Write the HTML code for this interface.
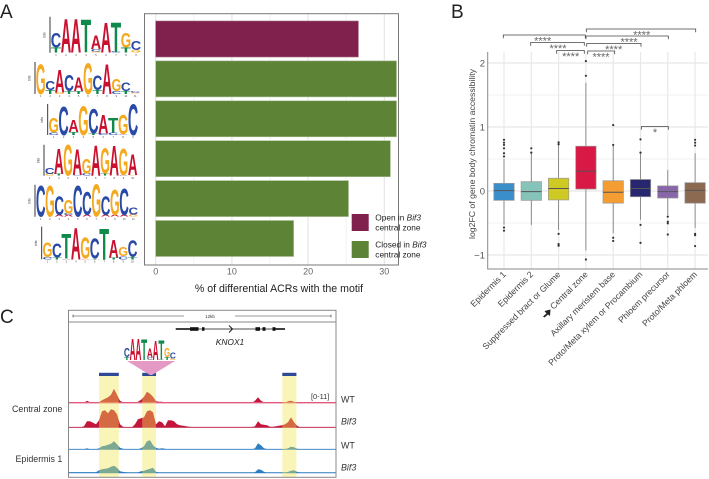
<!DOCTYPE html>
<html>
<head>
<meta charset="utf-8">
<title>ACR motif figure</title>
<style>
html,body{margin:0;padding:0;background:#fff}
svg{display:block;font-family:"Liberation Sans",sans-serif}
</style>
</head>
<body>
<svg id="fig" width="709" height="479" viewBox="0 0 709 479" xmlns="http://www.w3.org/2000/svg">
<text x="0" y="18" font-size="19" fill="#222">A</text>
<text x="451" y="18" font-size="19" fill="#222">B</text>
<text x="0" y="323" font-size="19" fill="#222">C</text>
<g id="logos"></g>
<g id="bars"></g>
<g id="boxes"></g>
<g id="browser"></g>
</svg>
<script>
/* ---------- Panel A data ---------- */
var barValues = [26.6, 31.6, 31.6, 30.8, 25.3, 18.1];
var barGroups = ['open', 'closed', 'closed', 'closed', 'closed', 'closed'];
var barTicks = [0, 10, 20, 30];
var barMinorTicks = [5, 15, 25];
var logoA = [[['T',.28],['C',.8]],[['A',1.85]],[['A',1.85]],[['T',1.8]],[['G',.06],['C',.15],['A',.75]],[['A',1.65]],[['C',.05],['T',1.65]],[['T',.28],['G',.8]],[['G',.15],['C',.5]]];
var logoB = [[['G',1.85]],[['T',.25],['C',.55]],[['G',.1],['A',1.4]],[['T',.2],['C',1]],[['T',.2],['A',.85]],[['G',1.9]],[['T',.25],['C',.9]],[['A',1.85]],[['C',.2],['G',.75]],[['T',.2],['C',.5]],[['G',.05],['A',.05],['C',.08]]];
var logoC = [[['C',.15],['G',.95]],[['C',1.8]],[['T',.2],['A',.8]],[['G',1.85]],[['T',.1],['C',1.55]],[['C',.1],['A',1.2]],[['C',.15],['T',.95]],[['C',.05],['G',1.25]],[['C',1.98]]];
var logoD = [[['G',.1],['C',.35]],[['T',.1],['A',1.6]],[['G',2]],[['C',.05],['A',1.65]],[['C',.15],['G',.95]],[['A',1.93]],[['T',.15],['G',1.6]],[['A',1.9]],[['C',.05],['G',1.7]],[['G',.05],['A',1.3]]];
var logoE = [[['C',1.92]],[['G',1.92]],[['A',.1],['C',1.15]],[['A',.1],['C',.1],['G',.85]],[['C',1.92]],[['A',.1],['C',1.45]],[['G',1.98]],[['A',.1],['C',1.15]],[['A',.1],['G',1.55]],[['A',.1],['C',1.65]],[['G',.1],['A',.05],['C',.45]]];
var logoF = [[['C',.15],['G',.9]],[['T',.1],['C',.85]],[['A',.05],['T',1.5]],[['A',1.9]],[['A',.05],['G',1.3]],[['T',.05],['C',1.2]],[['T',1.88]],[['T',.1],['A',1.05]],[['C',.2],['G',.55]],[['T',.15],['C',1]]];

/* ---------- Panel B data ---------- */
var categories = ['Epidermis 1','Epidermis 2','Suppressed bract or Glume','Central zone','Axillary meristem base','Proto/Meta xylem or Procambium','Phloem precursor','Proto/Meta phloem'];
var q1Values = [-0.146,-0.146,-0.14,0.03,-0.19,-0.09,-0.11,-0.19];
var medianValues = [0.005,-0.01,0.04,0.31,-0.02,0.04,-0.01,0.01];
var q3Values = [0.12,0.146,0.2,0.7,0.16,0.18,0.08,0.13];
var whiskerLow = [-0.53,-0.53,-0.61,-0.93,-0.66,-0.45,-0.375,-0.58];
var whiskerHigh = [0.5,0.59,0.72,1.69,0.72,0.59,0.33,0.59];
var outlierValues = [[0.8,0.755,0.72,0.667,0.59,0.54,-0.57,-0.62],[0.667,0.6],[0.76,0.73,-0.67,-0.83,-0.855],[2.03,1.8,-1.07],[1.03,0.72,-0.73,-0.78],[0.807,0.6,-0.53,-0.81],[-0.4,-0.48,-0.505,-0.68],[0.8,0.755,0.71,-0.67,-0.69,-0.86]];
var boxColors = ['#3a8fcb','#86c3b8','#cfc923','#d91945','#f39d33','#27276f','#8866a8','#8c6a52'];
var yTicks = [2,1,0,-1];
var yMinorTicks = [1.5,0.5,-0.5];

/* ---------- Panel C data (coverage per genomic bin) ---------- */
var trackCentralWT = [0,0,0,0,0,0,2,.5,0,0,.5,2.5,4,5.5,8,14,8,2,.5,0,0,0,0,1,3,6,11,9,6,1.5,1,1,0,0,0,0,0,0,0,0,0,0,0,0,0,0,0,0,0,0,0,0,0,0,0,0,0,0,0,0,0,0,2,5.5,2,.5,.5,0,0,0,0,0,0,1.5,2,1,0,0,0,0,0,0,0,0,0,0,0,0,0,0];
var trackCentralBif3 = [0,0,0,0,0,1,6,6,4.5,3,7,16,17,14,18,17,13,3,.5,0,0,0,3,8,9,10,16,17,15,3,6,5,1,7,7,6,3,2,1.5,1,.5,.3,.3,.3,.3,.3,.3,.3,.3,.3,.3,.3,.3,.3,.3,.3,.3,.3,.3,.3,.3,.3,1,6,3,2.5,2,.5,.5,1,1.5,2,3,5,10,5,1.5,0,0,0,0,0,0,0,0,0,0,0,0,0];
var trackEpidermisWT = [0,0,0,0,0,0,1,0,0,0,1,3,3.5,4.5,5.5,8,5,1.5,.5,0,0,0,0,0,1,3,8,9,4,1.5,.5,1,.5,0,0,0,0,0,0,0,0,0,0,0,0,0,0,0,0,0,0,0,0,0,0,0,0,0,0,0,0,0,1,6,4,1,.3,0,0,0,0,0,0,1,2.5,2,.5,0,0,0,0,0,0,0,0,0,0,0,0,0];
var trackEpidermisBif3 = [.5,.5,.5,.5,.5,.5,.5,.5,.5,.5,2.5,3.5,4,4.5,6,7,5,1.5,.8,.5,0,0,0,.3,1.5,2,3,4,5,1,0,0,0,0,0,0,0,0,0,0,0,0,0,0,0,0,0,0,0,0,0,0,0,0,0,0,0,0,0,0,0,0,.5,3.5,3,1,0,0,0,0,0,0,0,.8,2,2.5,1,0,0,0,0,0,0,0,0,0,0,0,0,0];
var highlightBins = [[10,16.6],[24.4,29],[71.1,75.8]];
var trackNames = ['central-zone-wt','central-zone-bif3','epidermis-wt','epidermis-bif3'];

var NS = 'http://www.w3.org/2000/svg';
function mk(parent, tag, attrs, txt) {
  var e = document.createElementNS(NS, tag);
  for (var k in attrs) e.setAttribute(k, attrs[k]);
  if (txt !== undefined) e.textContent = txt;
  parent.appendChild(e);
  return e;
}
var letterColor = {A:'#c9112f', C:'#2a4aa8', G:'#f4a91e', T:'#0f8a4c'};
var letterAdv = {A:.722, C:.722, G:.778, T:.611};

function drawLogo(parent, data, x0, x1, base, H, showAxis) {
  var colW = (x1 - x0) / data.length;
  var perBit = H / 2;
  data.forEach(function (col, i) {
    var y = base;
    col.forEach(function (cell) {
      var h = cell[1] * perBit;
      var sx = colW * 1.04 / (letterAdv[cell[0]] * 10);
      var sy = h / 6.9;
      var t = mk(parent, 'text', {
        transform: 'translate(' + (x0 + i * colW - colW * 0.02) + ',' + y + ') scale(' + sx + ',' + sy + ')',
        'font-size': 10, 'font-weight': 700, fill: letterColor[cell[0]]
      }, cell[0]);
      
      
      y -= h;
    });
    if (showAxis) {
      var n = mk(parent, 'text', {x: x0 + (i + .5) * colW, y: base + 3.2, 'font-size': 2.6, fill: '#444', 'text-anchor': 'middle'}, i + 1);
      
      
    }
  });
  if (showAxis) {
    var ax = mk(parent, 'line', {x1: x0 - 1, x2: x0 - 1, y1: base - H, y2: base, stroke: '#222', 'stroke-width': .9});
    
    
    var lb = mk(parent, 'text', {transform: 'translate(' + (x0 - 5.5) + ',' + (base - H / 2 + 3) + ') rotate(-90)', 'font-size': 3.5, fill: '#333'}, 'bits');
    
    
  }
}

/* Panel A logos */
var logoG = document.getElementById('logos');
drawLogo(logoG, logoA, 51, 141, 52.7, 36, true);
drawLogo(logoG, logoB, 36, 140, 94, 32, true);
drawLogo(logoG, logoC, 48.7, 138, 135, 31, true);
drawLogo(logoG, logoD, 45, 137.3, 175.7, 31, true);
drawLogo(logoG, logoE, 36, 138, 216.7, 32, true);
drawLogo(logoG, logoF, 42.7, 137.3, 259.3, 32.7, true);

/* Panel A bars */
var barG = document.getElementById('bars');
function bx(v) { return 155.7 + v * 7.62; }
barMinorTicks.forEach(function (t) {
  var g = mk(barG, 'line', {x1: bx(t), x2: bx(t), y1: 14, y2: 265, stroke: '#f2f2f2', 'stroke-width': 1});
  
  
});
barTicks.forEach(function (t) {
  var g = mk(barG, 'line', {x1: bx(t), x2: bx(t), y1: 14, y2: 265, stroke: '#e6e6e6', 'stroke-width': 1.2});
  
  
  var l = mk(barG, 'text', {x: bx(t), y: 274.5, 'font-size': 9, fill: '#666', 'text-anchor': 'middle'}, t);
  
  
});
barValues.forEach(function (v, i) {
  var r = mk(barG, 'rect', {x: bx(0), y: 21 + i * 39.9, width: bx(v) - bx(0), height: 36,
    fill: barGroups[i] === 'open' ? '#80204c' : '#5d8337', stroke: barGroups[i] === 'open' ? '#a36a85' : '#a9bf93', 'stroke-width': .6});
  
  
});
var fr = mk(barG, 'rect', {x: 144.5, y: 13.7, width: 254, height: 251.3, fill: 'none', stroke: '#777', 'stroke-width': 1});


var xt = mk(barG, 'text', {x: 279, y: 292, 'font-size': 10.6, fill: '#222', 'text-anchor': 'middle'}, '% of differential ACRs with the motif');



var legendEntries = [['Open in ', '#80204c', 214], ['Closed in ', '#5d8337', 241]];
legendEntries.forEach(function (en) {
  var s = mk(barG, 'rect', {x: 351.7, y: en[2], width: 17, height: 17, fill: en[1]});
  
  
  var t = mk(barG, 'text', {x: 375.3, y: en[2] + 6.5, 'font-size': 8.3, fill: '#222'}, en[0]);
  
  
  mk(t, 'tspan', {'font-style': 'italic'}, 'Bif3');
  var t2 = mk(barG, 'text', {x: 375.3, y: en[2] + 16.5, 'font-size': 8.3, fill: '#222'}, 'central zone');
  
  
});

/* Panel B box plot */
var boxG = document.getElementById('boxes');
function yb(v) { return 191 - v * 64; }
function xb(i) { return 504 + i * 27.3; }
yMinorTicks.forEach(function (t) {
  var g = mk(boxG, 'line', {x1: 488, x2: 708, y1: yb(t), y2: yb(t), stroke: '#f2f2f2', 'stroke-width': 1});
  
  
});
yTicks.forEach(function (t) {
  var g = mk(boxG, 'line', {x1: 488, x2: 708, y1: yb(t), y2: yb(t), stroke: '#e8e8e8', 'stroke-width': 1.2});
  
  
  var l = mk(boxG, 'text', {x: 485, y: yb(t) + 3.4, 'font-size': 9.5, fill: '#555', 'text-anchor': 'end'}, t < 0 ? '\u2212' + Math.abs(t) : t);
  
  
});
categories.forEach(function (c, i) {
  var g = mk(boxG, 'line', {x1: xb(i), x2: xb(i), y1: 52, y2: 269, stroke: '#e8e8e8', 'stroke-width': 1.2});
  
  
});
categories.forEach(function (c, i) {
  var x = xb(i);
  var w = mk(boxG, 'line', {x1: x, x2: x, y1: yb(whiskerHigh[i]), y2: yb(whiskerLow[i]), stroke: '#777', 'stroke-width': .8});
  
  
  var r = mk(boxG, 'rect', {x: x - 10.2, y: yb(q3Values[i]), width: 20.4, height: yb(q1Values[i]) - yb(q3Values[i]), fill: boxColors[i], stroke: '#999', 'stroke-width': .7});
  
  
  var m = mk(boxG, 'line', {x1: x - 10.2, x2: x + 10.2, y1: yb(medianValues[i]), y2: yb(medianValues[i]), stroke: '#555', 'stroke-width': 1});
  
  
  outlierValues[i].forEach(function (o) {
    var d = mk(boxG, 'circle', {cx: x, cy: yb(o), r: 1.1, fill: '#333'});
    
    
  });
  var t = mk(boxG, 'text', {transform: 'translate(' + (x + 2.5) + ',275) rotate(-45)', 'font-size': 8.7, fill: '#444', 'text-anchor': 'end'}, c);
  
  
});
var ba = mk(boxG, 'path', {d: 'M487.7 52V269H708', fill: 'none', stroke: '#888', 'stroke-width': 1});


var yt = mk(boxG, 'text', {transform: 'translate(475,154) rotate(-90)', 'font-size': 8.7, fill: '#444', 'text-anchor': 'middle'}, 'log2FC of gene body chromatin accessibility');


var ar = mk(boxG, 'path', {d: 'M543 316.5 L546.5 313.5 L544.5 311 L550.5 309.5 L550 316 L548 314.5 L544.5 317.5Z', fill: '#222'});



var sigBrackets = [
  [586.3, 695.7, 29, 641.7, '****'],
  [503.3, 585.3, 35, 542.7, '****'],
  [586, 668.3, 36, 629, '****'],
  [530.7, 584.3, 42.5, 558, '****'],
  [586.7, 641, 43.5, 613.7, '****'],
  [556.7, 584.3, 50.5, 570.7, '****'],
  [587.7, 614.7, 51, 601, '****'],
  [641.3, 668.3, 126.5, 655, '*']
];
sigBrackets.forEach(function (b) {
  var p = mk(boxG, 'path', {d: 'M' + b[0] + ' ' + (b[2] + 3.2) + 'V' + b[2] + 'H' + b[1] + 'V' + (b[2] + 3.2), fill: 'none', stroke: '#444', 'stroke-width': .8});
  
  
  var t = mk(boxG, 'text', {x: b[3], y: b[2] + 9.6, 'font-size': 11, fill: '#666', 'text-anchor': 'middle'}, b[4]);
  
  
});

/* Panel C browser */
var brG = document.getElementById('browser');
function xbin(i) { return 69 + i * 3; }
var tracks = [
  {d: trackCentralWT, base: 402.7, fill: '#c4163a', line: '#e2587a', w: 1.3},
  {d: trackCentralBif3, base: 427.3, fill: '#c4163a', line: '#b5143c', w: .9},
  {d: trackEpidermisWT, base: 449.3, fill: '#2f7fc1', line: '#2a7ac0', w: .9},
  {d: trackEpidermisBif3, base: 472.7, fill: '#2f7fc1', line: '#2a7ac0', w: 1}
];
tracks.forEach(function (tr, ti) {
  var d = 'M' + xbin(0) + ' ' + tr.base;
  tr.d.forEach(function (v, i) { d += 'L' + xbin(i) + ' ' + (tr.base - v); });
  d += 'L' + xbin(tr.d.length - 1) + ' ' + tr.base + 'Z';
  var a = mk(brG, 'path', {d: d, fill: tr.fill});
  
  
  a.setAttribute('aria-label', trackNames[ti]);
  var l = mk(brG, 'line', {x1: 69, x2: 336, y1: tr.base, y2: tr.base, stroke: tr.line, 'stroke-width': tr.w});
  
  
});
highlightBins.forEach(function (h) {
  var r = mk(brG, 'rect', {x: xbin(h[0]), y: 376, width: xbin(h[1]) - xbin(h[0]), height: 101, fill: 'rgba(240,230,80,.4)'});
  
  
  var b = mk(brG, 'rect', {x: xbin(h[0]), y: 372.8, width: xbin(h[1]) - xbin(h[0]), height: 3.2, fill: '#2e4a96'});
  
  
});
var bf = mk(brG, 'rect', {x: 68.5, y: 310.3, width: 267.5, height: 167, fill: 'none', stroke: '#888', 'stroke-width': 1});


var hl = mk(brG, 'line', {x1: 68.5, x2: 336, y1: 322, y2: 322, stroke: '#888', 'stroke-width': 1});


var sc = mk(brG, 'path', {d: 'M73 316H184M235 316H331M73 314.5V317.5M331 314.5V317.5', fill: 'none', stroke: '#333', 'stroke-width': .6});


var st = mk(brG, 'text', {x: 210, y: 318, 'font-size': 4.5, fill: '#333', 'text-anchor': 'middle'}, '12kb');


var gn = mk(brG, 'path', {d: 'M176 329H285', stroke: '#111', 'stroke-width': .8, fill: 'none'});


var exons = [[175.7,190,1.6],[190,198.5,3.6],[202,204.5,3.6],[255.5,260,3.6],[262.5,265.5,3.6],[272.5,275.5,3.6],[275.5,285,1.6]];
exons.forEach(function (e) {
  var r = mk(brG, 'rect', {x: e[0], y: 329 - e[2] / 2, width: e[1] - e[0], height: e[2], fill: '#111'});
  
  
});
var ch = mk(brG, 'path', {d: 'M229 325.5L232.5 329L229 332.5', fill: 'none', stroke: '#111', 'stroke-width': .9});


var kn = mk(brG, 'text', {x: 230, y: 345, 'font-size': 8.4, 'font-style': 'italic', fill: '#222', 'text-anchor': 'middle'}, 'KNOX1');


var tri = mk(brG, 'polygon', {points: '127,361 175,361 152,375 150,375', fill: '#e59ac5'});


drawLogo(brG, logoA, 124, 175.7, 360, 23, false);

var sideLabels = [
  ['Central zone', 12, 412, 'normal', 'row-label-central-zone'],
  ['Epidermis 1', 15.5, 462, 'normal', 'row-label-epidermis'],
  ['[0-11]', 311, 399, 'normal', 'track-range-label'],
  ['WT', 341, 402.5, 'normal', 'genotype-label-wt'],
  ['Bif3', 341, 424.5, 'italic', 'genotype-label-bif3'],
  ['WT', 341, 448.5, 'normal', 'genotype-label-wt-2'],
  ['Bif3', 341, 470.5, 'italic', 'genotype-label-bif3-2']
];
sideLabels.forEach(function (s) {
  var t = mk(brG, 'text', {x: s[1], y: s[2], 'font-size': s[0] === '[0-11]' ? 7.4 : 8.9, 'font-style': s[3], fill: '#333'}, s[0]);
  
  
});
</script>
</body>
</html>
